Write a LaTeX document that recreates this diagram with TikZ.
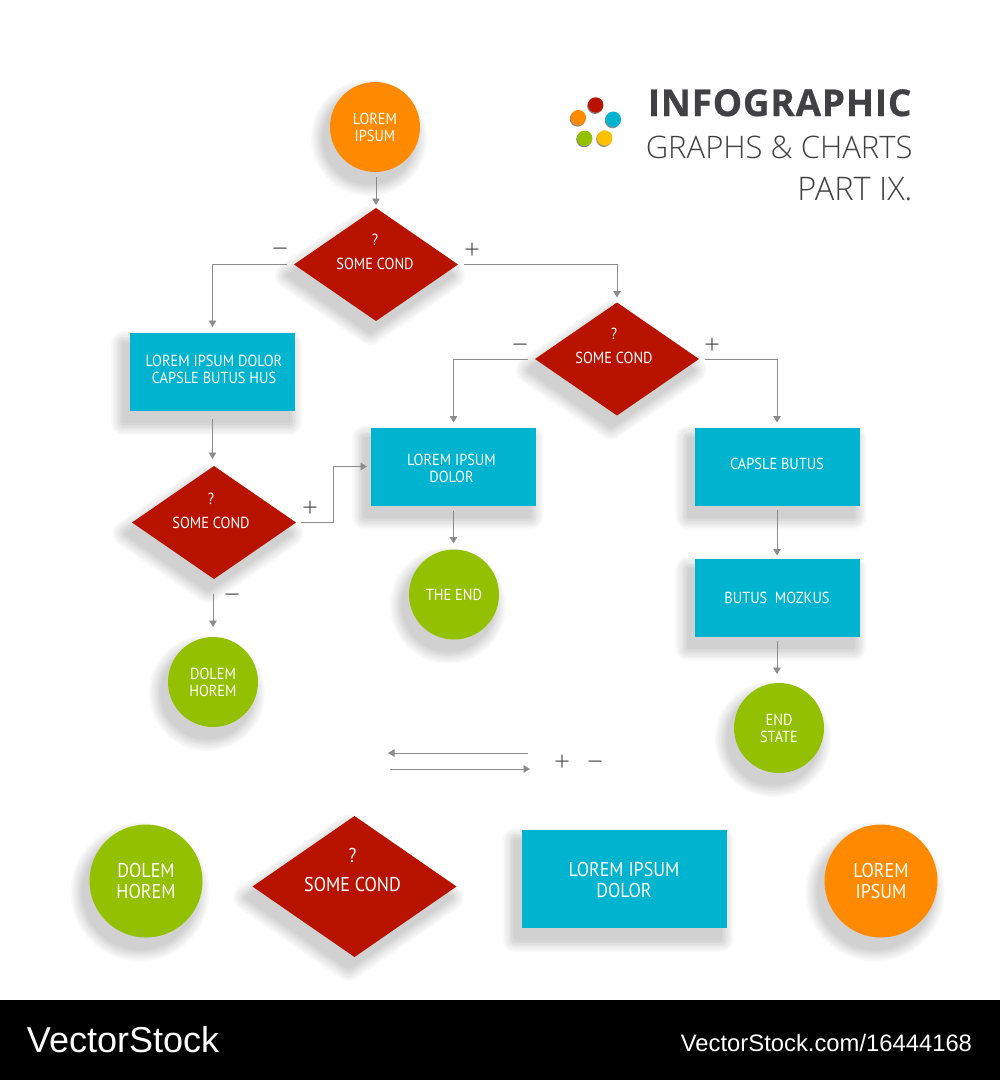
\documentclass[tikz,border=0pt]{standalone}
\usepackage{fontspec}
\setmainfont{PT Sans}
\newfontfamily\titolofont[LetterSpace=2,FakeBold=0.6]{Open Sans}
\newfontfamily\sottilefont[UprightFont={* Light}]{Open Sans}
\newfontfamily\etichettafont[FakeStretch=0.9]{PT Sans}
\newfontfamily\marchiofont{Liberation Sans}
\usetikzlibrary{positioning}
\usetikzlibrary{calc}
\usetikzlibrary{shapes.geometric}
\usetikzlibrary{arrows.meta}
\definecolor{rosso}{HTML}{B81200}
\definecolor{azzurro}{HTML}{00B3CF}
\definecolor{verde}{HTML}{93C000}
\definecolor{arancio}{HTML}{FF8A00}
\definecolor{giallo}{HTML}{FFC000}
\definecolor{grigio}{HTML}{8C8C8C}
\definecolor{scuro}{HTML}{414143}
\begin{document}
\begin{tikzpicture}[align=center,node distance=12pt,
font=\etichettafont,every node/.style={outer sep=0pt},
strato/.style={preaction={draw=black!#1,fill=black!#1,line width={(28-1.4*#1)*1pt},line join=round,transform canvas={shift={(-6pt,-11pt)}}}},
ombra/.style={strato=1,strato=2,strato=3,strato=4,strato=5,strato=6,strato=7,strato=8,strato=10,strato=12,strato=14,strato=16,strato=18},
ombrina/.style={preaction={fill=black!45,transform canvas={shift={(-0.8pt,-1.2pt)}}}},
testo/.style={ombra,fill=azzurro,minimum width=165pt,minimum height=78pt,inner sep=0pt},
testoR/.style={text=white,inner sep=0pt,font=\etichettafont\fontsize{16}{17}\selectfont},
testoC/.style={text=white,inner sep=0pt,font=\etichettafont\fontsize{16}{24}\selectfont},
condiz/.style={ombra,diamond,fill=rosso,minimum width=164pt,minimum height=113pt,inner sep=0pt},
cerchio/.style={ombra,circle,text=white,minimum size=90pt,inner sep=0pt,font=\etichettafont\fontsize{16}{17}\selectfont},
grande/.style={font=\etichettafont\fontsize{20}{20.5}\selectfont},
pallino/.style={ombrina,circle,minimum size=15.5pt,inner sep=0pt},
segno/.style={text=scuro,inner sep=0pt,font=\sottilefont\fontsize{28}{28}\selectfont},
freccia/.style={draw=grigio,line width=0.9pt,-{Triangle[width=7.5pt,length=6.5pt]}},
titolo/.style={anchor=base east,text=scuro,inner sep=0pt}
]
\useasboundingbox (0,0) rectangle (1000pt,-1080pt);
\fill[black] (0,-1000pt) rectangle (1000pt,-1080pt);
%--
\node[cerchio,fill=arancio](xa) at (375pt,-127pt){LOREM\\IPSUM};
\node[condiz,below = 36pt of xa,xshift=1pt](a){}; \node[testoC,yshift=13pt,xshift=-1pt](ta) at (a.center){?\\SOME COND};
\draw [freccia,shorten <=5pt,shorten >=3pt] (xa.south -| a) -- (a);
\node[segno](menoA) at (280pt,-253pt){−};
\node[segno](piuA) at (472pt,-251pt){+};
%--
\node[testo,below = of a,xshift=-163.5pt](b){}; \node[testoR,xshift=1.5pt,yshift=2.5pt](tb) at (b.center){LOREM IPSUM DOLOR\\CAPSLE BUTUS HUS};
\draw [freccia,shorten <=7pt,shorten >=6pt] (a.west) -| (b);
%--
\node[condiz,below = 55pt of b,xshift=1.5pt](c){}; \node[testoC,yshift=11.5pt,xshift=-3pt](tc) at (c.center){?\\SOME COND};
\draw [freccia,shorten <=8pt,shorten >=7pt] (b) -- (b|-c.north);
\node[segno](piuC) at (310pt,-509pt){+};
\node[segno](menoC) at (232pt,-599pt){−};
%--
\node[cerchio,fill=verde,below = 58pt of c,xshift=-1pt](xc){DOLEM\\HOREM};
\draw [freccia,shorten <=15pt,shorten >=10pt] (c.south -| xc) -- (xc);
%----
\node[condiz,right = 77pt of a,yshift=-94.5pt](aa){}; \node[testoC,yshift=13pt,xshift=-3pt](taa) at (aa.center){?\\SOME COND};
\draw [freccia,shorten <=6pt,shorten >=5pt] (a.east) -| (aa);
\node[segno](menoB) at (520pt,-349pt){−};
\node[segno](piuB) at (712pt,-346pt){+};
%--
\node[testo,below = of aa,xshift=-163.5pt](d){}; \node[testoR,xshift=-2pt,yshift=-1.5pt](td) at (d.center){LOREM IPSUM\\DOLOR};
\draw [freccia,shorten <=7pt,shorten >=5pt] (aa.west) -| (d);
\coordinate (gomito) at ($(c.east)!0.5!(d.west)$);
\draw [freccia,shorten <=5pt,shorten >=4pt] (c.east) -| (gomito) |- (d.west);
%--
\node[cerchio,fill=verde,below = 44pt of d,xshift=0.5pt](xd){THE END};
\draw [freccia,shorten <=5pt,shorten >=6pt] (d) -- (d|-xd.north);
%--
\node[testo,below = of aa,xshift=160pt](e){}; \node[testoR,yshift=3pt](te) at (e.center){CAPSLE BUTUS};
\draw [freccia,shorten <=6pt,shorten >=5pt] (aa.east) -| (e);
%--
\node[testo,below = 53pt of e](f){}; \node[testoR](tf) at (f.center){BUTUS\ \ MOZKUS};
\draw [freccia,shorten <=4pt,shorten >=3pt] (e) -- (f);
%--
\node[cerchio,fill=verde,below = 46.5pt of f,xshift=2pt](xf){END\\STATE};
\draw [freccia,shorten <=4pt,shorten >=9pt] (f) -- (f|-xf.north);
%----
\coordinate (sxA) at (528pt,-753pt); \coordinate (dxA) at (388pt,-753pt);
\coordinate (sxB) at (390pt,-769pt); \coordinate (dxB) at (530pt,-769pt);
\draw [freccia] (sxA) -- (dxA);
\draw [freccia] (sxB) -- (dxB);
\node[segno](piuL) at (562pt,-763pt){+};
\node[segno](menoL) at (595pt,-766pt){−};
%----
\node[cerchio,grande,fill=verde,minimum size=113pt](g1) at (146pt,-881pt){DOLEM\\HOREM};
\node[condiz,minimum width=204pt,minimum height=141pt,right = 50pt of g1,yshift=-5.5pt](g2){};
\node[testoC,yshift=16.5pt,xshift=-2pt,font=\etichettafont\fontsize{20}{29}\selectfont](tg2) at (g2.center){?\\SOME COND};
\node[testo,minimum width=205pt,minimum height=98pt,right = 65pt of g2,yshift=7.5pt](g3){}; \node[testoR,grande,yshift=-1pt](tg3) at (g3.center){LOREM IPSUM\\DOLOR};
\node[cerchio,grande,fill=arancio,minimum size=113pt,right = 98pt of g3,yshift=-2pt](g4){LOREM\\IPSUM};
%----
\node[pallino,fill=rosso](p1) at (595.7pt,-105pt){};
\node[pallino,fill=arancio](p2) at (578.3pt,-117.7pt){};
\node[pallino,fill=azzurro](p3) at (613.3pt,-119.3pt){};
\node[pallino,fill=verde](p4) at (584.7pt,-138.3pt){};
\node[pallino,fill=giallo](p5) at (604.7pt,-138pt){};
%--
\node[titolo,font=\titolofont\bfseries\fontsize{37}{37}\selectfont](t1) at (911.5pt,-116pt){INFOGRAPHIC};
\node[titolo,font=\sottilefont\fontsize{31}{31}\selectfont](t2) at (912.5pt,-158pt){GRAPHS \& CHARTS};
\node[titolo,font=\sottilefont\fontsize{32.5}{32.5}\selectfont](t3) at (912.5pt,-200.5pt){PART IX.};
%--
\node[anchor=base west,text=white,inner sep=0pt,font=\marchiofont\fontsize{36}{36}\selectfont](m1) at (27pt,-1052pt){VectorStock};
\node[anchor=base east,text=white,inner sep=0pt,font=\marchiofont\fontsize{23.8}{24}\selectfont](m2) at (972pt,-1051pt){VectorStock.com/16444168};
\end{tikzpicture}
\end{document}
